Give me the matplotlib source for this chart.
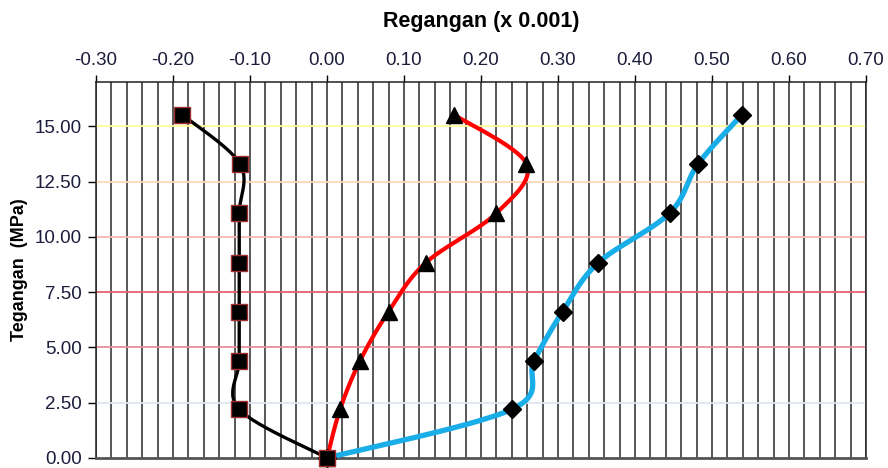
import numpy as np
import matplotlib
matplotlib.use("Agg")
import matplotlib.pyplot as plt
from matplotlib.ticker import MultipleLocator, FormatStrFormatter

plt.rcParams['font.family'] = ['Liberation Sans', 'DejaVu Sans']

# data (strain x 0.001, stress MPa)
STRESS = [0.00, 2.20, 4.40, 6.62, 8.82, 11.07, 13.30, 15.52]
STRAIN_SQUARE = [0.000, -0.114, -0.114, -0.114, -0.114, -0.114, -0.113, -0.188]
STRAIN_TRIANGLE = [0.000, 0.017, 0.043, 0.080, 0.128, 0.220, 0.259, 0.165]
STRAIN_DIAMOND = [0.000, 0.240, 0.269, 0.306, 0.352, 0.445, 0.482, 0.539]

GRID_LEVELS = [2.5, 5.0, 7.5, 10.0, 12.5, 15.0]
GRID_COLORS = ["#dfe6f0", "#e8909c", "#e86070", "#f8b8b8", "#fcd8b8", "#ffff99"]

TICK_COLOR = "#1c1c3c"


def smooth_line(ax, xs, ys, n=30):
    # Excel-like smoothed line: Catmull-Rom in display space
    pts = ax.transData.transform(np.column_stack([xs, ys]))
    p = np.vstack([pts[0], pts, pts[-1]])
    out = []
    t = np.linspace(0, 1, n)[:, None]
    for i in range(1, len(p) - 2):
        p0, p1, p2, p3 = p[i - 1], p[i], p[i + 1], p[i + 2]
        c1 = p1 + (p2 - p0) / 6.0
        c2 = p2 - (p3 - p1) / 6.0
        seg = ((1 - t) ** 3) * p1 + 3 * ((1 - t) ** 2) * t * c1 + 3 * (1 - t) * t ** 2 * c2 + t ** 3 * p2
        out.append(seg)
    out = np.vstack(out)
    return ax.transData.inverted().transform(out)


fig = plt.figure(figsize=(8.88, 4.68), dpi=100)
ax = fig.add_axes([0.1081, 0.0214, 0.8671, 0.8034])

ax.set_xlim(-0.30, 0.70)
ax.set_ylim(0, 17)

for lvl, col in zip(GRID_LEVELS, GRID_COLORS):
    ax.axhline(lvl, color=col, linewidth=1.3, zorder=1)

ax.xaxis.set_major_locator(MultipleLocator(0.10))
ax.xaxis.set_minor_locator(MultipleLocator(0.02))
ax.xaxis.set_major_formatter(FormatStrFormatter("%.2f"))
ax.grid(which="both", axis="x", color="#2a2a2a", linewidth=1.1, zorder=1)
ax.set_axisbelow(True)

ax.yaxis.set_major_locator(MultipleLocator(2.5))
ax.yaxis.set_major_formatter(FormatStrFormatter("%.2f"))

ax.xaxis.tick_top()
ax.tick_params(axis="x", which="major", direction="out", length=5, width=1,
               labelsize=13.5, labelcolor=TICK_COLOR, pad=4)
ax.tick_params(axis="x", which="minor", length=0)
ax.tick_params(axis="y", direction="out", length=6, width=1,
               labelsize=13.5, labelcolor=TICK_COLOR, pad=4)

for side in ["top", "left", "right"]:
    ax.spines[side].set_color("#222222")
    ax.spines[side].set_linewidth(1.1)
ax.spines["bottom"].set_color("#555555")
ax.spines["bottom"].set_linewidth(2)

series = [
    (STRAIN_SQUARE, "black", 2.4, "s", 11.5, "#a03030"),
    (STRAIN_TRIANGLE, "#ff0000", 3.0, "^", 11.5, "black"),
    (STRAIN_DIAMOND, "#1aaee8", 3.8, "D", 9.5, "black"),
]

for xs, col, lw, mk, ms, mec in series:
    curve = smooth_line(ax, xs, STRESS)
    ax.plot(curve[:, 0], curve[:, 1], color=col, linewidth=lw,
            solid_capstyle="round", zorder=3)

for xs, col, lw, mk, ms, mec in series[::-1]:
    ax.plot(xs, STRESS, linestyle="None", marker=mk, markersize=ms,
            markerfacecolor="black", markeredgecolor=mec,
            markeredgewidth=1, zorder=4, clip_on=False)

fig.text(0.5417, 0.953, "Regangan (x 0.001)", ha="center", va="center",
         fontsize=15.5, fontweight="bold", color="black")
fig.text(0.0215, 0.423, "Tegangan  (MPa)", ha="center", va="center",
         rotation=90, fontsize=13, fontweight="bold", color="black")

fig.savefig("out.png", dpi=100)
